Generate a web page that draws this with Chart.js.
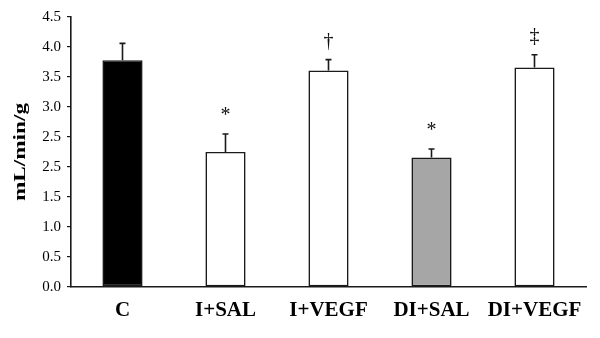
<!DOCTYPE html>
<html>
<head>
<meta charset="utf-8">
<script src="https://cdn.jsdelivr.net/npm/chart.js@4.4.1/dist/chart.umd.min.js"></script>
<style>
  html, body { margin: 0; padding: 0; background: #fff; }
  #wrap { width: 600px; height: 338px; position: relative; }
</style>
</head>
<body>
<div id="wrap"><canvas id="flowChart"></canvas></div>
<script>
const groups = ['C', 'I+SAL', 'I+VEGF', 'DI+SAL', 'DI+VEGF'];
const flowValues = [3.78, 2.25, 3.61, 2.16, 3.66];
const flowErrors = [0.28, 0.30, 0.18, 0.14, 0.21];
const significance = ['', '*', '\u2020', '*', '\u2021'];
const barColors = ['#000000', '#ffffff', '#ffffff', '#a6a6a6', '#ffffff'];
const yTickLabels = ['0.0', '0.5', '1.0', '1.5', '2.5', '2.5', '3.0', '3.5', '4.0', '4.5'];
const yTitle = 'mL/min/g';

// error bars (upper half only) plus significance marks
const errorBarPlugin = {
    id: 'errorBars',
    afterDatasetsDraw(chart) {
        const ctx = chart.ctx;
        const yScale = chart.scales.y;
        const meta = chart.getDatasetMeta(0);
        ctx.save();
        meta.data.forEach((bar, i) => {
            const x = bar.x;
            const top = yScale.getPixelForValue(flowValues[i]);
            const errTop = yScale.getPixelForValue(flowValues[i] + flowErrors[i]);
            ctx.strokeStyle = '#1a1a1a';
            ctx.lineWidth = 1.6;
            ctx.beginPath();
            ctx.moveTo(x, top);
            ctx.lineTo(x, errTop);
            ctx.moveTo(x - 3, errTop);
            ctx.lineTo(x + 3, errTop);
            ctx.stroke();
            if (significance[i]) {
                ctx.fillStyle = '#111';
                ctx.font = '20px "Liberation Serif", "Times New Roman", serif';
                ctx.textAlign = 'center';
                ctx.textBaseline = 'alphabetic';
                ctx.fillText(significance[i], x, errTop - 13);
            }
        });
        ctx.restore();
    }
};

// y title is stretched along its length in the original
const yTitlePlugin = {
    id: 'yTitle',
    afterDraw(chart) {
        const ctx = chart.ctx;
        const area = chart.chartArea;
        ctx.save();
        ctx.translate(21, (area.top + area.bottom) / 2);
        ctx.rotate(-Math.PI / 2);
        ctx.scale(1.45, 1);
        ctx.font = 'bold 16px "Liberation Serif", "Times New Roman", serif';
        ctx.fillStyle = '#000';
        ctx.textAlign = 'center';
        ctx.textBaseline = 'middle';
        ctx.fillText(yTitle, 0, 0);
        ctx.restore();
    }
};

const ctx = document.getElementById('flowChart').getContext('2d');
new Chart(ctx, {
    type: 'bar',
    data: {
        labels: groups,
        datasets: [{
            label: yTitle,
            data: flowValues,
            backgroundColor: barColors,
            borderColor: '#1a1a1a',
            borderWidth: 1.6,
            borderSkipped: false,
            barPercentage: 0.39,
            categoryPercentage: 1.0
        }]
    },
    options: {
        responsive: true,
        maintainAspectRatio: false,
        animation: false,
        layout: {
            padding: { top: 17, right: 14, left: 0, bottom: 0 }
        },
        plugins: {
            legend: { display: false },
            tooltip: { enabled: false }
        },
        scales: {
            x: {
                grid: { display: false, drawTicks: false },
                border: { display: true, color: '#1a1a1a', width: 1.6 },
                ticks: {
                    color: '#000',
                    padding: 11,
                    font: { family: '"Liberation Serif", "Times New Roman", serif', size: 21, weight: 'bold' }
                },
                afterFit(scale) { scale.height = 51; }
            },
            y: {
                min: 0,
                max: 4.5,
                grid: {
                    display: true,
                    drawOnChartArea: false,
                    drawTicks: true,
                    tickLength: 4,
                    color: '#1a1a1a',
                    lineWidth: 1.2
                },
                border: { display: true, color: '#1a1a1a', width: 1.6 },
                ticks: {
                    stepSize: 0.5,
                    padding: 6,
                    color: '#000',
                    font: { family: '"Liberation Serif", "Times New Roman", serif', size: 15 },
                    callback: (value, index) => yTickLabels[index]
                },
                afterFit(scale) { scale.width = 71; }
            }
        }
    },
    plugins: [errorBarPlugin, yTitlePlugin]
});
</script>
</body>
</html>
